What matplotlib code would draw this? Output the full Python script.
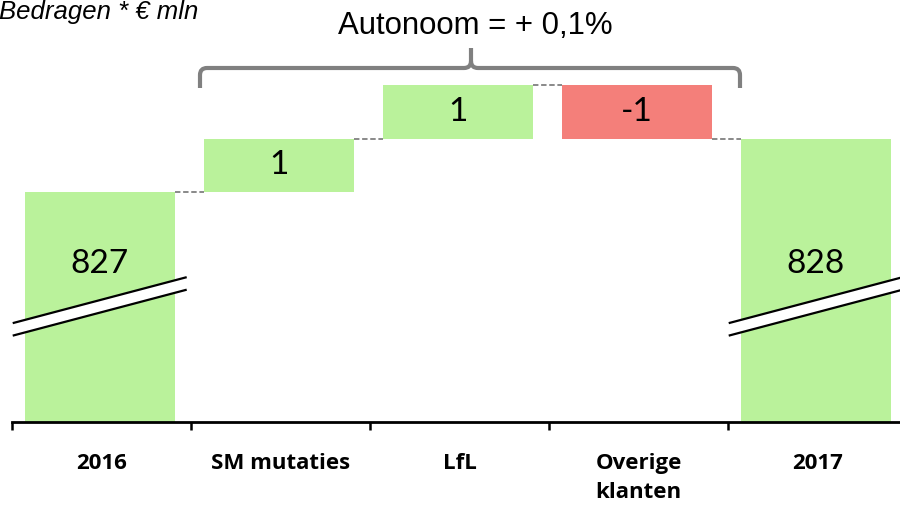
import matplotlib
matplotlib.use("Agg")
import matplotlib.pyplot as plt
import numpy as np
from matplotlib.path import Path
from matplotlib.patches import PathPatch, Polygon

categories = ["2016", "SM mutaties", "LfL", "Overige\nklanten", "2017"]
start_value = 827
deltas = [1, 1, -1]
end_value = 828
labels = ["827", "1", "1", "-1", "828"]
unit_label = "Bedragen * € mln"
brace_label = "Autonoom = + 0,1%"

GREEN = "#BAF29B"
RED = "#F47F7A"
GRAY = "#808080"

W, H = 900, 505
fig = plt.figure(figsize=(W / 100, H / 100), dpi=100)
ax = fig.add_axes([12 / W, (H - 422) / H, 895 / W, 422 / H])

ymin, ymax = 822.70, 830.59
ax.set_xlim(-0.5, 4.5)
ax.set_ylim(ymin, ymax)

x = np.arange(len(categories))
bw = 0.84
xoff = -0.01
# totals
ax.bar(x[0] + xoff, start_value - ymin, bottom=ymin, width=bw, color=GREEN, zorder=2)
ax.bar(x[-1] + xoff, end_value - ymin, bottom=ymin, width=bw, color=GREEN, zorder=2)
# deltas
levels = [start_value]
for i, d in enumerate(deltas):
    prev = levels[-1]
    new = prev + d
    ax.bar(x[i + 1] + xoff, d, bottom=prev, width=bw,
           color=GREEN if d >= 0 else RED, zorder=2)
    levels.append(new)

# connectors
for i in range(len(categories) - 1):
    lvl = levels[i] if i < len(levels) else levels[-1]
    ax.plot([x[i] + xoff + bw / 2, x[i + 1] + xoff - bw / 2], [lvl, lvl],
            color=GRAY, lw=1.3, ls=(0, (3, 1.5)), zorder=1)

# value labels
mids = [825.65]
for i, d in enumerate(deltas):
    mids.append(levels[i] + d / 2)
mids.append(825.65)
for xi, yi, lab in zip(x, mids, labels):
    ax.text(xi + xoff, yi, lab, ha="center", va="center", fontsize=24,
            family="Lato", zorder=5)

# break marks on total bars
slope = 0.84 / 0.95
gap = 0.234
ymid = 824.87
for xi in (x[0], x[-1]):
    x0, x1 = xi - 0.49, xi + 0.47
    y0u = ymid + gap / 2 + slope * (x0 - xi)
    y1u = ymid + gap / 2 + slope * (x1 - xi)
    poly = Polygon([[x0, y0u], [x1, y1u], [x1, y1u - gap], [x0, y0u - gap]],
                   closed=True, facecolor="white", edgecolor="none", zorder=3,
                   clip_on=False)
    ax.add_patch(poly)
    ax.plot([x0, x1], [y0u, y1u], color="black", lw=1.6, zorder=4, clip_on=False)
    ax.plot([x0, x1], [y0u - gap, y1u - gap], color="black", lw=1.6, zorder=4,
            clip_on=False)

# axis styling
for s in ["top", "right", "left"]:
    ax.spines[s].set_visible(False)
ax.spines["bottom"].set_linewidth(2)
ax.set_yticks([])
ax.set_xticks(np.arange(-0.5, 5.0, 1.0))
ax.set_xticklabels([])
ax.tick_params(axis="x", which="major", length=6, width=1.8, direction="out")
ax.set_xticks(x, minor=True)
ax.set_xticklabels(categories, minor=True, fontsize=16, fontweight="bold",
                   family="Open Sans", linespacing=1.5, va="top")
ax.tick_params(axis="x", which="minor", length=0, pad=22)

# overlay for brace and text
ov = fig.add_axes([0, 0, 1, 1], zorder=10)
ov.set_xlim(0, W)
ov.set_ylim(H, 0)
ov.axis("off")

xl, xr, xc = 200, 740, 471
yb, yh, yt = 88, 68, 48
r = 7
verts = [
    (xl, yb), (xl, yh + r), (xl, yh), (xl + r, yh),
    (xc - r, yh), (xc, yh), (xc, yh - r),
    (xc, yt),
    (xc, yh - r), (xc, yh), (xc + r, yh),
    (xr - r, yh), (xr, yh), (xr, yh + r),
    (xr, yb),
]
codes = [Path.MOVETO, Path.LINETO, Path.CURVE3, Path.CURVE3,
         Path.LINETO, Path.CURVE3, Path.CURVE3,
         Path.LINETO,
         Path.MOVETO, Path.CURVE3, Path.CURVE3,
         Path.LINETO, Path.CURVE3, Path.CURVE3,
         Path.LINETO]
ov.add_patch(PathPatch(Path(verts, codes), facecolor="none", edgecolor=GRAY,
                       lw=3, capstyle="butt", joinstyle="round"))
ov.text(475, 26, brace_label, ha="center", va="center", fontsize=22.4,
        family="Liberation Sans")
ov.text(-1, 12, unit_label, ha="left", va="center", fontsize=18.5,
        family="Liberation Sans", style="italic")

fig.savefig("out.png", dpi=100)
